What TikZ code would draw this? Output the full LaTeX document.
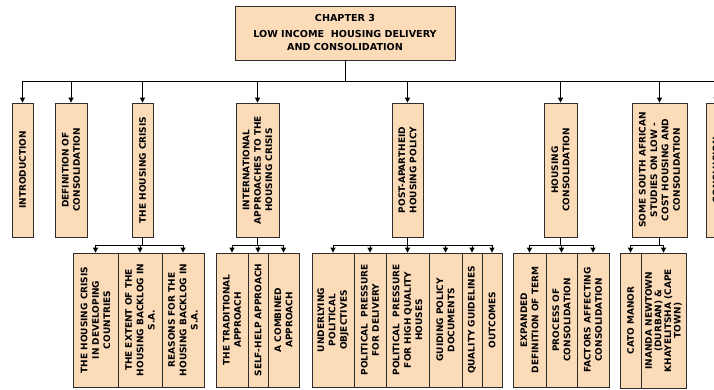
\documentclass[tikz,border=0pt]{standalone}
\usepackage{fontspec}
\setmainfont{DejaVu Sans}
\usetikzlibrary{arrows.meta,shadows}
\definecolor{peach}{RGB}{252,219,185}
\definecolor{edgec}{RGB}{45,45,45}
\begin{document}
\begin{tikzpicture}[x=1pt,y=-1pt,
  basebox/.style={draw=edgec, line width=0.8pt, fill=peach, inner sep=0pt, align=center,
    drop shadow={shadow xshift=0.8pt, shadow yshift=-0.8pt, fill=black!45, opacity=1}},
  box/.style={basebox, rotate=90, font=\bfseries\fontsize{9}{11.4}\selectfont},
  tbox/.style={basebox, font=\bfseries\fontsize{9.6}{13}\selectfont},
  wire/.style={line width=0.8pt, black},
  conn/.style={wire, -{Triangle[width=5pt,length=5pt]}}]
\useasboundingbox (0,0) rectangle (714,389);
\clip (0,0) rectangle (714,389);

% title
\node[tbox, minimum width=220pt, minimum height=54pt] (title) at (345,33)
  {CHAPTER 3\\[3pt]LOW INCOME \ HOUSING DELIVERY\\AND CONSOLIDATION};

% level 1
\node[box, minimum width=134pt, minimum height=21pt] (intro) at (22.5,170) {INTRODUCTION};
\node[box, minimum width=134pt, minimum height=32pt] (def) at (71,170) {DEFINITION OF\\CONSOLIDATION};
\node[box, minimum width=134pt, minimum height=21pt] (crisis) at (142.5,170) {THE HOUSING CRISIS};
\node[box, minimum width=134pt, minimum height=43pt] (intl) at (257.5,170) {INTERNATIONAL\\APPROACHES TO THE\\HOUSING CRISIS};
\node[box, minimum width=134pt, minimum height=31pt] (post) at (407.5,170) {POST-APARTHEID\\HOUSING POLICY};
\node[box, minimum width=134pt, minimum height=33pt] (hcons) at (560.5,170) {HOUSING\\CONSOLIDATION};
\node[box, minimum width=134pt, minimum height=55pt] (sa) at (659.5,170) {SOME SOUTH AFRICAN\\STUDIES ON LOW -\\COST HOUSING AND\\CONSOLIDATION};
\node[box, minimum width=134pt, minimum height=20pt] (concl) at (716,170) {CONCLUSION};

% level 2: housing crisis
\node[box, minimum width=134pt, minimum height=45pt] (c1) at (95.5,320) {THE HOUSING CRISIS\\IN DEVELOPING\\COUNTRIES};
\node[box, minimum width=134pt, minimum height=44pt] (c2) at (140,320) {THE EXTENT OF THE\\HOUSING BACKLOG IN\\S.A.};
\node[box, minimum width=134pt, minimum height=42pt] (c3) at (183,320) {REASONS FOR THE\\HOUSING BACKLOG IN\\S.A.};
% international
\node[box, minimum width=134pt, minimum height=32pt] (i1) at (232,320) {THE TRADITIONAL\\APPROACH};
\node[box, minimum width=134pt, minimum height=20pt] (i2) at (258,320) {SELF-HELP APPROACH};
\node[box, minimum width=134pt, minimum height=31pt] (i3) at (283.5,320) {A COMBINED\\APPROACH};
% post-apartheid
\node[box, minimum width=134pt, minimum height=42pt] (p1) at (333,320) {UNDERLYING\\POLITICAL\\OBJECTIVES};
\node[box, minimum width=134pt, minimum height=32pt] (p2) at (370,320) {POLITICAL \ PRESSURE\\FOR DELIVERY};
\node[box, minimum width=134pt, minimum height=43pt] (p3) at (407.5,320) {POLITICAL \ PRESSURE\\FOR HIGH QUALITY\\HOUSES};
\node[box, minimum width=134pt, minimum height=33pt] (p4) at (445.5,320) {GUIDING POLICY\\DOCUMENTS};
\node[box, minimum width=134pt, minimum height=20pt] (p5) at (472,320) {QUALITY GUIDELINES};
\node[box, minimum width=134pt, minimum height=20pt] (p6) at (492,320) {OUTCOMES};
% housing consolidation
\node[box, minimum width=134pt, minimum height=33pt] (h1) at (529.5,320) {EXPANDED\\DEFINITION OF TERM};
\node[box, minimum width=134pt, minimum height=31pt] (h2) at (561.5,320) {PROCESS OF\\CONSOLIDATION};
\node[box, minimum width=134pt, minimum height=32pt] (h3) at (593,320) {FACTORS AFFECTING\\CONSOLIDATION};
% south african studies
\node[box, minimum width=135pt, minimum height=21pt] (s1) at (630.5,320.5) {CATO MANOR};
\node[box, minimum width=135pt, minimum height=45pt, font=\bfseries\fontsize{9}{9.6}\selectfont] (s2) at (663.5,320.5) {INANDA NEWTOWN\\(DURBAN) \&\\KHAYELITSHA (CAPE\\TOWN)};

% connectors level 1
\coordinate (bus) at (345,81);
\draw[wire] (title.south) -- (bus);
\draw[wire] (intro.east |- bus) -- (concl.east |- bus);
\foreach \n in {intro,def,crisis,intl,post,hcons,sa,concl}
  \draw[conn] (\n.east |- bus) -- (\n.east);

% connectors level 2
\coordinate (br) at (0,245);
\draw[wire] (crisis.west) -- (crisis.west |- br);
\draw[wire] (c1.east |- br) -- (c3.east |- br);
\foreach \n in {c1,c2,c3} \draw[conn] (\n.east |- br) -- (\n.east);

\draw[wire] (intl.west) -- (intl.west |- br);
\draw[wire] (i1.east |- br) -- (i3.east |- br);
\foreach \n in {i1,i2,i3} \draw[conn] (\n.east |- br) -- (\n.east);

\draw[wire] (post.west) -- (post.west |- br);
\draw[wire] (p1.east |- br) -- (p6.east |- br);
\foreach \n in {p1,p2,p3,p4,p5,p6} \draw[conn] (\n.east |- br) -- (\n.east);

\draw[wire] (hcons.west) -- (hcons.west |- br);
\draw[wire] (h1.east |- br) -- (h3.east |- br);
\foreach \n in {h1,h2,h3} \draw[conn] (\n.east |- br) -- (\n.east);

\draw[wire] (sa.west) -- (sa.west |- br);
\draw[wire] (s1.east |- br) -- (s2.east |- br);
\foreach \n in {s1,s2} \draw[conn] (\n.east |- br) -- (\n.east);
\end{tikzpicture}
\end{document}
